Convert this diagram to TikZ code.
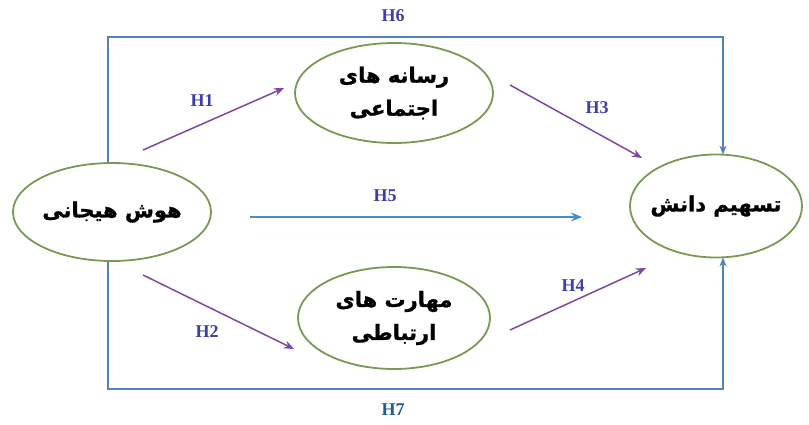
\documentclass[tikz,border=0pt]{standalone}
\usepackage{fontspec}
\TeXXeTstate=1
\newfontfamily\arabicfont[Script=Arabic, BoldFont={DejaVu Sans Bold}, BoldFeatures={FakeBold=1.2}]{DejaVu Sans}
\setmainfont{Liberation Serif}
\usetikzlibrary{shapes.geometric,arrows.meta}
\definecolor{ellgreen}{RGB}{122,152,82}
\definecolor{boxblue}{RGB}{84,130,186}
\definecolor{arrpurple}{RGB}{125,72,165}
\definecolor{lblblue}{RGB}{62,62,170}
\definecolor{lblteal}{RGB}{30,92,150}
\definecolor{hfive}{RGB}{72,140,208}
\tikzset{
  var/.style={ellipse, draw=ellgreen, line width=1.8pt, inner sep=0pt, align=center,
    font=\arabicfont\bfseries\fontsize{21}{33}\selectfont},
  harrow/.style={draw=arrpurple, line width=1.5pt, -{Stealth[length=10pt,width=8pt]}},
  boxline/.style={draw=boxblue, line width=1.6pt, -{Stealth[length=9pt,width=7pt]}},
  hlabel/.style={text=lblblue, font=\bfseries\fontsize{18}{20}\selectfont},
}
\begin{document}
\begin{tikzpicture}[x=1pt,y=-1pt]
\useasboundingbox (0,0) rectangle (809,424);
\node[var, minimum width=198, minimum height=98] (ei) at (112,212) {\beginR هوش هیجانی\endR};
\node[var, minimum width=198, minimum height=100] (sm) at (394,93) {\beginR رسانه های\endR\\ \beginR اجتماعی\endR};
\node[var, minimum width=192, minimum height=102] (cs) at (394,318) {\beginR مهارت های\endR\\ \beginR ارتباطی\endR};
\node[var, inner xsep=-12pt, minimum width=172, minimum height=103] (ks) at (716,206) {\beginR تسهیم دانش\endR};
% outer paths
\coordinate (tl) at (108,37);
\coordinate (bl) at (108,389);
\draw[boxline] ([xshift=-4pt]ei.north) |- (tl) -| ([xshift=7pt,yshift=-1pt]ks.north);
\draw[boxline] ([xshift=-4pt]ei.south) |- (bl) -| ([xshift=7pt,yshift=1pt]ks.south);
% hypothesis arrows
\coordinate (h1s) at (143,150); \coordinate (h1e) at (284,88);
\coordinate (h2s) at (143,275); \coordinate (h2e) at (294,349);
\coordinate (h3s) at (510,85);  \coordinate (h3e) at (642,158);
\coordinate (h4s) at (510,330); \coordinate (h4e) at (646,268);
\coordinate (h5s) at (250,217); \coordinate (h5e) at (582,217);
\draw[harrow] (h1s) -- (h1e);
\draw[harrow] (h2s) -- (h2e);
\draw[harrow] (h3s) -- (h3e);
\draw[harrow] (h4s) -- (h4e);
\draw[draw=hfive, line width=1.7pt, -{Stealth[length=11pt,width=9pt]}] (h5s) -- (h5e);
% labels
\node[hlabel] (l1) at (202,101) {H1};
\node[hlabel] (l2) at (207,332) {H2};
\node[hlabel] (l3) at (597,108) {H3};
\node[hlabel] (l4) at (573,286) {H4};
\node[hlabel] (l5) at (385,196) {H5};
\node[hlabel] (l6) at (393,16) {H6};
\node[hlabel, text=lblteal] (l7) at (393,410) {H7};
\end{tikzpicture}
\end{document}
